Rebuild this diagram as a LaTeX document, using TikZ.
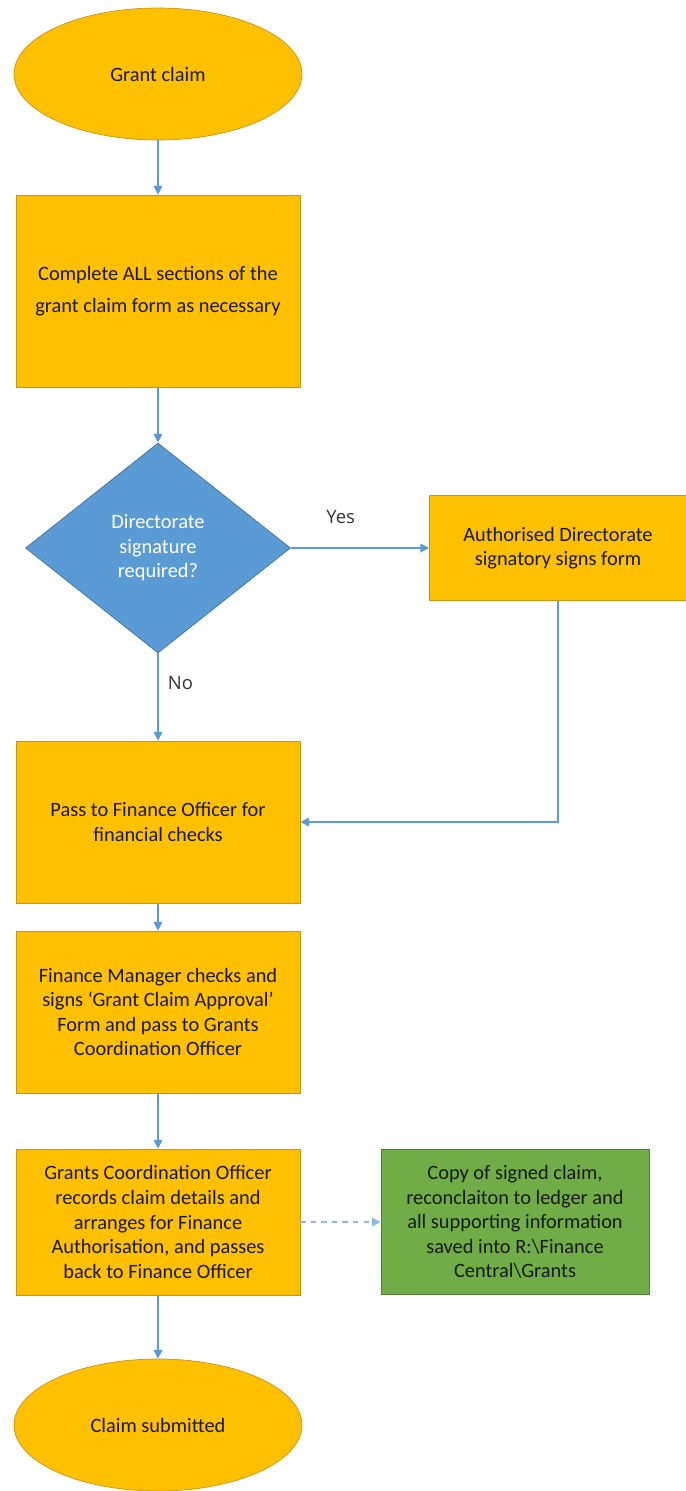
\documentclass[tikz,border=0pt]{standalone}
\usepackage{fontspec}
\setmainfont{Carlito}
\newfontfamily\labelfont{Open Sans}
\definecolor{claimorange}{RGB}{255, 192, 0}
\definecolor{claimedge}{RGB}{196, 150, 20}
\definecolor{flowblue}{RGB}{91, 155, 213}
\definecolor{flowedge}{RGB}{65, 113, 156}
\definecolor{savegreen}{RGB}{112, 173, 71}
\definecolor{greenedge}{RGB}{80, 126, 50}
\usetikzlibrary{shapes.geometric, arrows.meta, positioning}

\begin{document}
\begin{tikzpicture}[x=0.02cm, y=-0.02cm,
  boxtext/.style={font=\fontsize{11.6}{14}\selectfont, text=black!90, align=center},
  terminal/.style={ellipse, draw=claimedge, fill=claimorange, boxtext, minimum width=5.76cm, minimum height=2.64cm},
  stepbox/.style={rectangle, draw=claimedge, fill=claimorange, boxtext, minimum width=5.68cm},
  decision/.style={diamond, draw=flowedge, fill=flowblue, boxtext, text=white, aspect=1.26, minimum width=5.3cm, minimum height=4.2cm, inner sep=0pt},
  savebox/.style={rectangle, draw=greenedge, fill=savegreen, boxtext, minimum width=5.36cm, minimum height=2.9cm},
  flow/.style={draw=flowblue, line width=0.7pt, -{Triangle[length=5pt, width=5pt]}},
  answer/.style={font=\labelfont\fontsize{10.5}{12}\selectfont, text=black!80}]

  \useasboundingbox (0, 0) rectangle (686, 1491);

  % Main column
  \node[terminal] (start) at (158, 74) {Grant claim};
  \node[stepbox, minimum height=3.84cm] (complete) at (158, 291) {Complete ALL sections of the\\[4pt] grant claim form as necessary};
  \node[decision] (dirsig) at (158, 548) {Directorate\\signature\\required?};
  \node[stepbox, minimum width=5.14cm, minimum height=2.1cm] (authsign) at (558, 548) {Authorised Directorate\\signatory signs form};
  \node[stepbox, minimum height=3.24cm] (passfo) at (158, 822) {Pass to Finance Officer for\\financial checks};
  \node[stepbox, minimum height=3.24cm] (fmcheck) at (158, 1012) {Finance Manager checks and\\signs `Grant Claim Approval'\\Form and pass to Grants\\Coordination Officer};
  \node[stepbox, minimum height=2.92cm] (gcrecord) at (158, 1222) {Grants Coordination Officer\\records claim details and\\arranges for Finance\\Authorisation, and passes\\back to Finance Officer};
  \node[savebox] (saved) at (515, 1222) {Copy of signed claim,\\reconclaiton to ledger and\\all supporting information\\saved into R:\textbackslash Finance\\Central\textbackslash Grants};
  \node[terminal] (submitted) at (158, 1425) {Claim submitted};

  % Connectors
  \draw[flow] (start) -- (complete);
  \draw[flow] (complete) -- (dirsig);
  \draw[flow] (dirsig.east) -- (authsign.west) node[pos=0.36, above=10pt, answer] {Yes};
  \draw[flow] (dirsig.south) -- (passfo.north) node[pos=0.34, right=2pt, answer] {No};
  \draw[flow] (authsign.south) |- (passfo.east);
  \draw[flow] (passfo) -- (fmcheck);
  \draw[flow] (fmcheck) -- (gcrecord);
  \draw[flow, dashed, draw=flowblue!70] (gcrecord) -- (saved);
  \draw[flow] (gcrecord) -- (submitted);
\end{tikzpicture}
\end{document}
